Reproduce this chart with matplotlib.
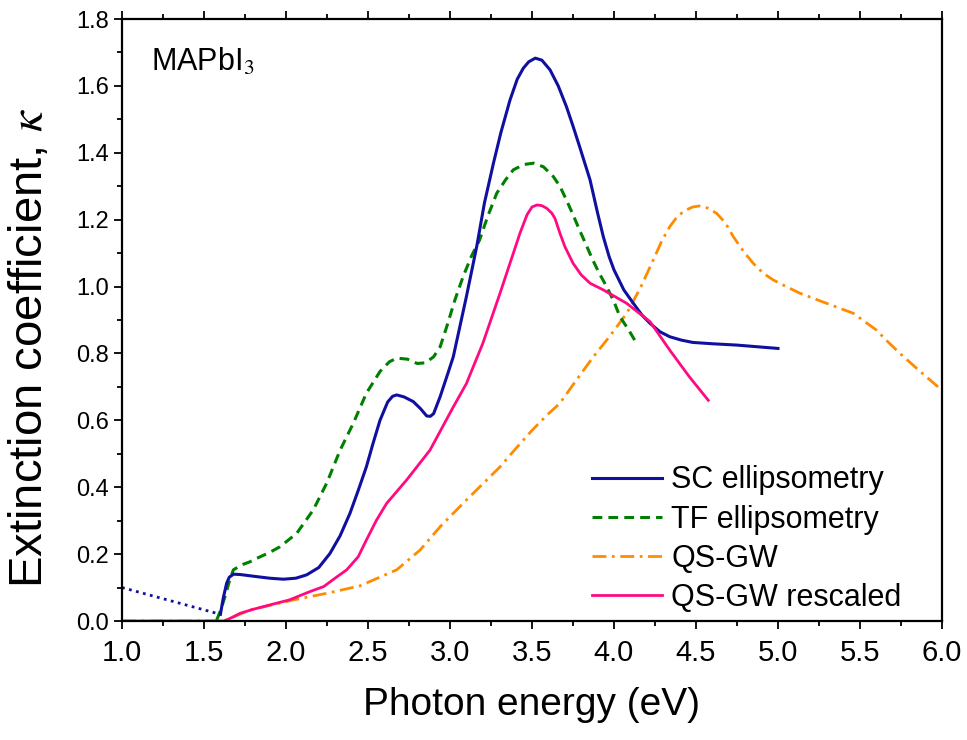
import matplotlib
matplotlib.use('Agg')
import matplotlib.pyplot as plt
from matplotlib.ticker import MultipleLocator

plt.rcParams['font.family'] = ['Liberation Sans', 'DejaVu Sans']
plt.rcParams['mathtext.fontset'] = 'stix'

# SC ellipsometry (solid part) and its extrapolated dotted tail below the gap
sc_e = [1.60, 1.617, 1.638, 1.654, 1.68, 1.72, 1.80, 1.90, 1.984, 2.06, 2.126, 2.20,
        2.268, 2.33, 2.39, 2.44, 2.49, 2.53, 2.573, 2.62, 2.65, 2.675, 2.72, 2.776, 2.82,
        2.858, 2.88, 2.90, 2.94, 2.98, 3.02, 3.06, 3.10, 3.163, 3.21, 3.265, 3.31, 3.366,
        3.41, 3.447, 3.48, 3.52, 3.56, 3.61, 3.66, 3.71, 3.75, 3.79, 3.854, 3.90, 3.935,
        3.97, 4.00, 4.06, 4.118, 4.17, 4.22, 4.28, 4.34, 4.41, 4.48, 4.60, 4.75, 5.0]
sc_k = [0.02, 0.068, 0.113, 0.131, 0.14, 0.139, 0.134, 0.128, 0.125, 0.128, 0.138, 0.16,
        0.202, 0.255, 0.322, 0.39, 0.461, 0.53, 0.60, 0.655, 0.672, 0.676, 0.67, 0.656,
        0.635, 0.613, 0.612, 0.62, 0.671, 0.73, 0.79, 0.88, 0.97, 1.12, 1.25, 1.369, 1.46,
        1.558, 1.62, 1.653, 1.672, 1.683, 1.677, 1.648, 1.60, 1.538, 1.48, 1.419, 1.319,
        1.22, 1.149, 1.09, 1.05, 0.99, 0.95, 0.915, 0.89, 0.865, 0.85, 0.84, 0.833, 0.829,
        0.825, 0.815]
sc_tail_e = [1.0, 1.60]
sc_tail_k = [0.10, 0.02]

# TF ellipsometry
tf_e = [1.577, 1.60, 1.628, 1.655, 1.679, 1.73, 1.78, 1.82, 1.90, 1.963, 2.065, 2.166,
        2.248, 2.33, 2.41, 2.49, 2.573, 2.63, 2.675, 2.74, 2.80, 2.85, 2.90, 2.94, 2.98,
        3.03, 3.08, 3.13, 3.18, 3.23, 3.285, 3.34, 3.386, 3.45, 3.51, 3.57, 3.63, 3.67,
        3.71, 3.75, 3.79, 3.83, 3.87, 3.91, 3.955, 4.00, 4.036, 4.09, 4.138]
tf_k = [0.003, 0.03, 0.073, 0.12, 0.153, 0.168, 0.177, 0.187, 0.205, 0.222, 0.262, 0.332,
        0.412, 0.511, 0.591, 0.681, 0.746, 0.775, 0.786, 0.783, 0.77, 0.772, 0.79, 0.82,
        0.88, 0.96, 1.03, 1.09, 1.139, 1.21, 1.279, 1.32, 1.349, 1.365, 1.369, 1.358,
        1.329, 1.30, 1.259, 1.215, 1.169, 1.125, 1.08, 1.04, 1.0, 0.955, 0.91, 0.87, 0.83]

# QS-GW
gw_e = [1.0, 1.62, 1.66, 1.78, 2.045, 2.25, 2.45, 2.675, 2.817, 2.94, 3.08, 3.305, 3.40,
        3.50, 3.59, 3.67, 3.77, 3.874, 3.98, 4.077, 4.16, 4.24, 4.29, 4.34, 4.39, 4.44,
        4.48, 4.52, 4.57, 4.626, 4.68, 4.728, 4.79, 4.85, 4.91, 4.97, 5.05, 5.134, 5.296,
        5.46, 5.53, 5.60, 5.67, 5.744, 5.87, 6.0]
gw_k = [0.0, 0.0, 0.008, 0.033, 0.063, 0.083, 0.105, 0.153, 0.212, 0.282, 0.352, 0.461,
        0.515, 0.57, 0.615, 0.651, 0.72, 0.79, 0.855, 0.92, 0.995, 1.08, 1.135, 1.179,
        1.212, 1.229, 1.238, 1.241, 1.235, 1.219, 1.19, 1.149, 1.105, 1.069, 1.04, 1.02,
        1.0, 0.98, 0.95, 0.92, 0.895, 0.87, 0.835, 0.80, 0.745, 0.69]

# QS-GW rescaled
gwr_e = [1.0, 1.62, 1.638, 1.68, 1.72, 1.80, 1.94, 2.02, 2.146, 2.23, 2.31, 2.37, 2.44,
         2.49, 2.55, 2.614, 2.736, 2.878, 3.02, 3.10, 3.20, 3.305, 3.427, 3.47, 3.50,
         3.53, 3.56, 3.59, 3.62, 3.64, 3.67, 3.70, 3.75, 3.80, 3.854, 3.935, 4.077, 4.22,
         4.34, 4.46, 4.575]
gwr_k = [0.0, 0.0, 0.003, 0.013, 0.023, 0.035, 0.053, 0.063, 0.088, 0.103, 0.132, 0.153,
         0.192, 0.242, 0.30, 0.352, 0.422, 0.511, 0.64, 0.71, 0.83, 0.98, 1.16, 1.215,
         1.238, 1.244, 1.242, 1.234, 1.22, 1.204, 1.16, 1.12, 1.07, 1.035, 1.01, 0.99,
         0.95, 0.895, 0.81, 0.73, 0.66]

fig = plt.figure(figsize=(9.67, 7.4), dpi=100)
ax = fig.add_axes([0.1262, 0.1608, 0.8479, 0.8135])

ax.plot(sc_tail_e, sc_tail_k, color='#1010a0', lw=2.0, linestyle=(0, (1, 1.6)))
ax.plot(gw_e, gw_k, color='#ff8c00', lw=2.0, linestyle=(0, (5, 2, 1, 2)), label='QS-GW')
ax.plot(tf_e, tf_k, color='#008000', lw=2.2, linestyle=(0, (3.2, 2)), label='TF ellipsometry')
ax.plot(sc_e, sc_k, color='#1010a0', lw=2.2, label='SC ellipsometry')
ax.plot(gwr_e, gwr_k, color='#ff0a82', lw=2.0, label='QS-GW rescaled')

ax.set_xlim(1.0, 6.0)
ax.set_ylim(0.0, 1.8)
ax.xaxis.set_major_locator(MultipleLocator(0.5))
ax.xaxis.set_minor_locator(MultipleLocator(0.25))
ax.yaxis.set_major_locator(MultipleLocator(0.2))
ax.yaxis.set_minor_locator(MultipleLocator(0.1))
ax.xaxis.set_major_formatter(plt.FormatStrFormatter('%.1f'))
ax.yaxis.set_major_formatter(plt.FormatStrFormatter('%.1f'))

ax.tick_params(which='both', direction='out', top=True, right=False, width=1.3)
ax.tick_params(which='major', length=6)
ax.tick_params(which='minor', length=3.5)
ax.tick_params(axis='x', labelsize=21, pad=7)
ax.tick_params(axis='y', labelsize=17)
for s in ax.spines.values():
    s.set_linewidth(1.6)

ax.set_xlabel('Photon energy (eV)', fontsize=28, labelpad=14)
ax.set_ylabel(r'Extinction coefficient, $\mathit{\kappa}$', fontsize=34)
ax.yaxis.set_label_coords(-0.086, 0.455)

ax.text(0.035, 0.955, r'MAPbI$_3$', transform=ax.transAxes, fontsize=22, va='top', ha='left')

handles, labels = ax.get_legend_handles_labels()
order = [labels.index(n) for n in ['SC ellipsometry', 'TF ellipsometry', 'QS-GW', 'QS-GW rescaled']]
ax.legend([handles[i] for i in order], [labels[i] for i in order],
          loc='lower right', bbox_to_anchor=(0.977, -0.022), frameon=False, fontsize=22,
          handlelength=2.3, handletextpad=0.3, labelspacing=0.3, borderaxespad=0.3)

fig.savefig('out.png', dpi=100)
